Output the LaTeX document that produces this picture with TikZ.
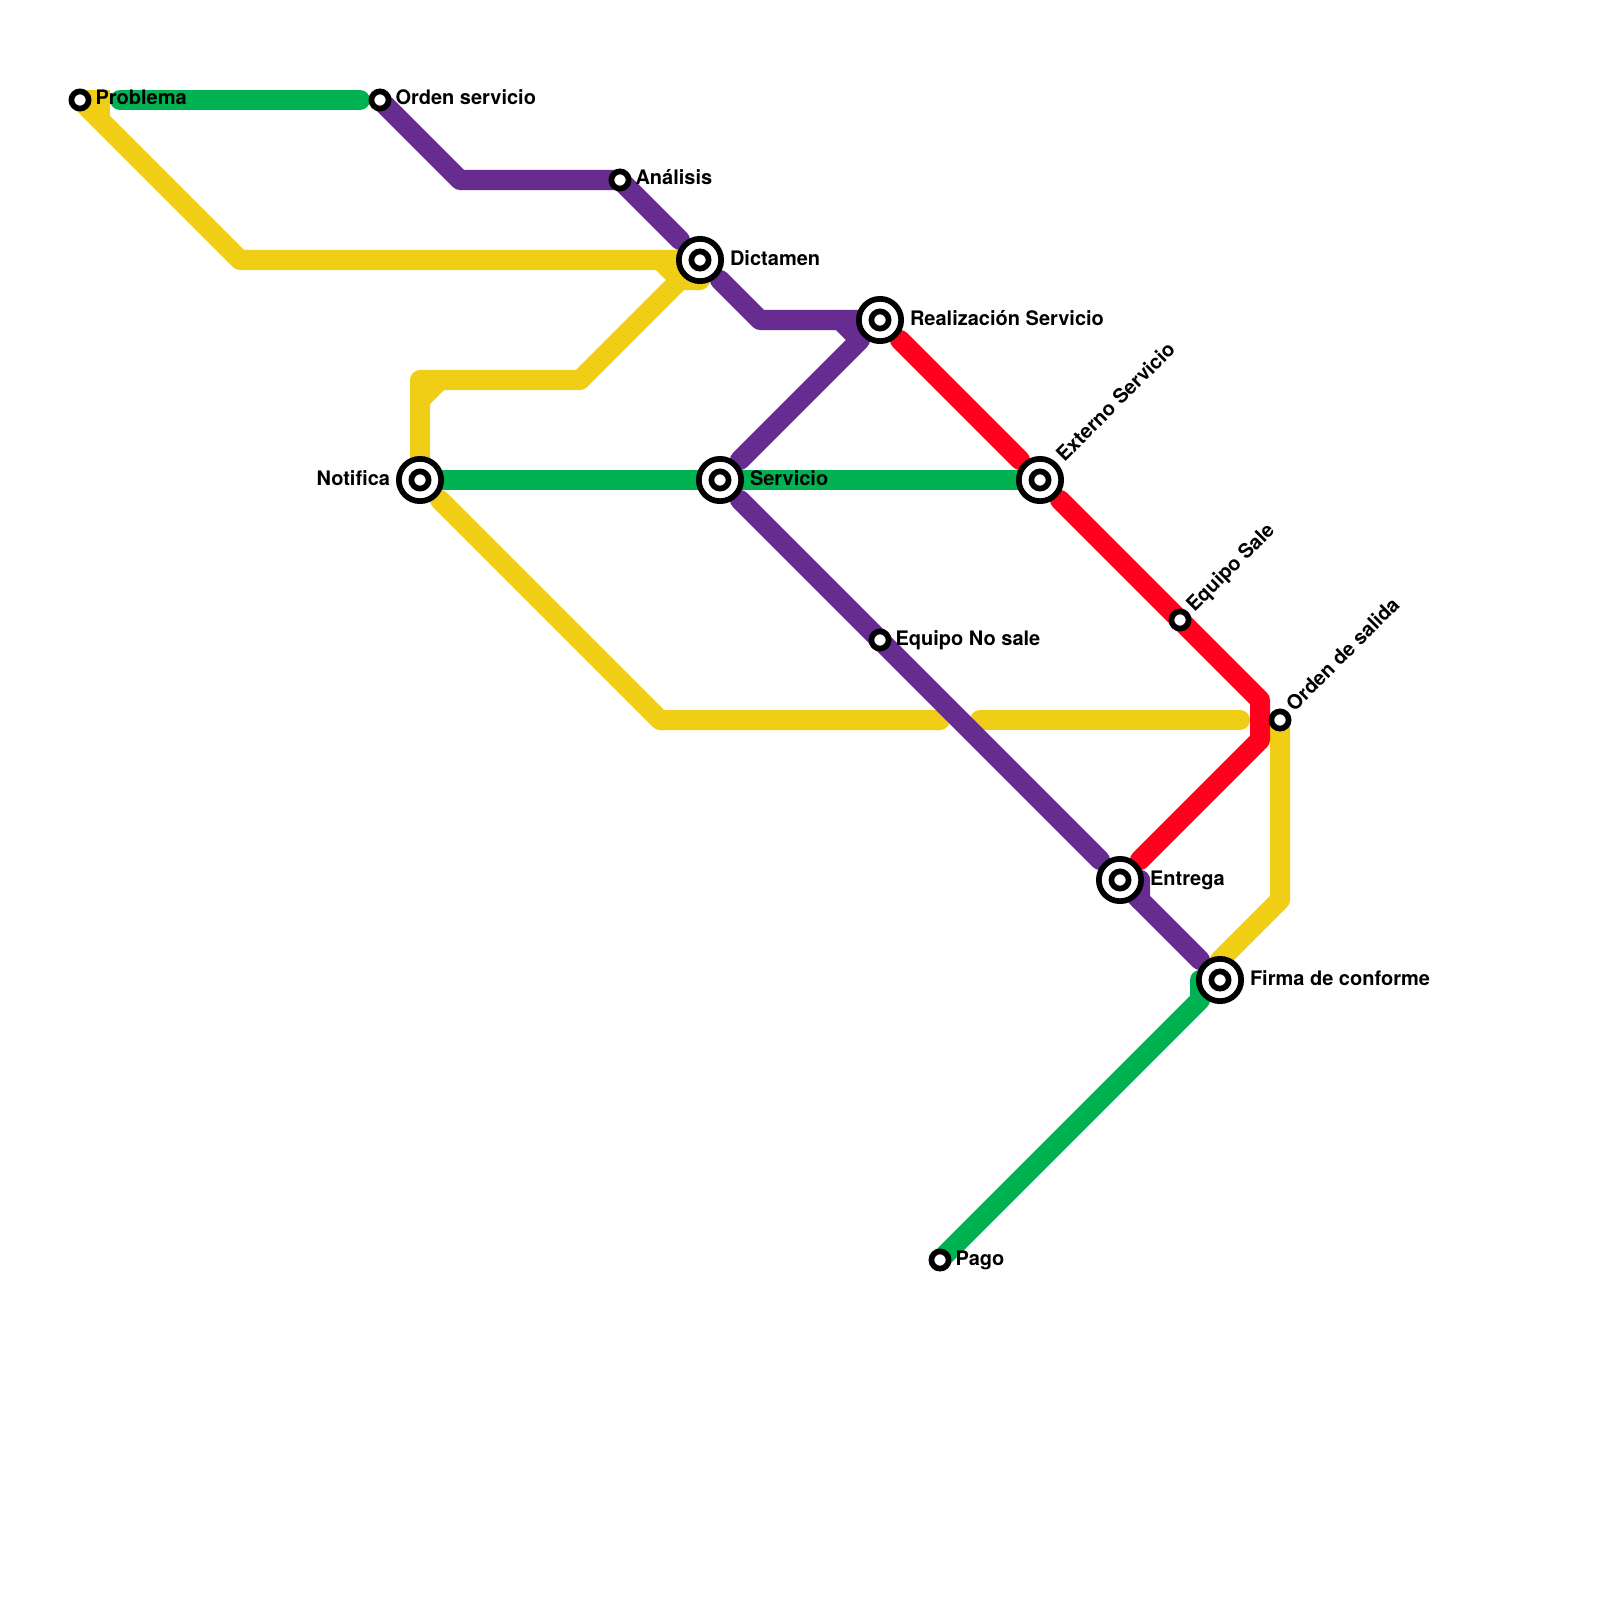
\documentclass[tikz,border=0pt]{standalone}
\usepackage{fontspec}
\setmainfont{TeX Gyre Heros}
\pgfdeclarelayer{lines}
\pgfsetlayers{lines,main}
\definecolor{lineY}{HTML}{F0CE15}
\definecolor{lineP}{HTML}{662C90}
\definecolor{lineG}{HTML}{00B251}
\definecolor{lineR}{HTML}{FF001D}
\tikzset{
  metro/.style={line width=2mm,line cap=round,line join=round},
  ringnode/.style={circle,draw=black,fill=white,line width=0.57mm,inner sep=0pt,outer sep=0pt,minimum size=4.23mm},
  dotnode/.style={circle,draw=black,fill=white,line width=0.57mm,inner sep=0pt,outer sep=0pt,minimum size=1.72mm},
  lbl/.style={font=\bfseries\fontsize{5.69pt}{6.5pt}\selectfont,inner sep=0pt,outer sep=0pt,text=black},
  lblr/.style={lbl,anchor=base west},
  lbll/.style={lbl,anchor=base east},
  lbld/.style={lbl,anchor=base west,rotate=45}
}
\begin{document}
\begin{tikzpicture}[x=0.01cm,y=-0.01cm]
\useasboundingbox (0,0) rectangle (1600,1600);
% stations
\node[dotnode] (prob) at (80,100) {};
\node[dotnode] (orden) at (380,100) {};
\node[dotnode] (anal) at (620,180) {};
\node[ringnode] (dict) at (700,260) {}; \node[dotnode] (dictc) at (dict) {};
\node[ringnode] (real) at (880,320) {}; \node[dotnode] (realc) at (real) {};
\node[ringnode] (noti) at (420,480) {}; \node[dotnode] (notic) at (noti) {};
\node[ringnode] (serv) at (720,480) {}; \node[dotnode] (servc) at (serv) {};
\node[ringnode] (exte) at (1040,480) {}; \node[dotnode] (extec) at (exte) {};
\node[dotnode] (nosale) at (880,640) {};
\node[dotnode] (sale) at (1180,620) {};
\node[dotnode] (osal) at (1280,720) {};
\node[ringnode] (entr) at (1120,880) {}; \node[dotnode] (entrc) at (entr) {};
\node[ringnode] (firm) at (1220,980) {}; \node[dotnode] (firmc) at (firm) {};
\node[dotnode] (pago) at (940,1260) {};
% yellow bends and line ends
\coordinate (y1) at (100,100);
\coordinate (y2) at (100,120);
\coordinate (y3) at (240,260);
\coordinate (y4) at (680,260);
\coordinate (y4b) at (660,260);
\coordinate (y5) at (680,280);
\coordinate (y6) at (700,280);
\coordinate (y7) at (580,380);
\coordinate (y8) at (420,380);
\coordinate (y9) at (420,400);
\coordinate (y10) at (440,380);
\coordinate (yn) at (420,460);
\coordinate (yn2) at (440,500);
\coordinate (y11) at (660,720);
\coordinate (y12) at (940,720);
\coordinate (y13) at (980,720);
\coordinate (y14) at (1240,720);
\coordinate (y15) at (1280,900);
\coordinate (y16) at (1220,960);
% purple
\coordinate (p1) at (460,180);
\coordinate (pd1) at (680,240);
\coordinate (pd2) at (720,280);
\coordinate (p2) at (760,320);
\coordinate (p3) at (840,320);
\coordinate (p3b) at (860,320);
\coordinate (p4) at (860,340);
\coordinate (ps1) at (740,460);
\coordinate (ps2) at (740,500);
\coordinate (pe1) at (1100,860);
\coordinate (p5) at (1140,880);
\coordinate (p6) at (1140,900);
\coordinate (pf) at (1200,960);
% green
\coordinate (g1) at (120,100);
\coordinate (g2) at (360,100);
\coordinate (gn) at (440,480);
\coordinate (gs1) at (700,480);
\coordinate (gs2) at (740,480);
\coordinate (ge) at (1020,480);
\coordinate (g3) at (1200,980);
\coordinate (g4) at (1200,1000);
% red
\coordinate (r0) at (900,340);
\coordinate (re1) at (1020,460);
\coordinate (re2) at (1060,500);
\coordinate (r1) at (1260,700);
\coordinate (r2) at (1260,740);
\coordinate (r3) at (1140,860);
% lines
\begin{pgfonlayer}{lines}
\draw[metro,lineY] (prob.center) -- (y3) -- (y4);
\draw[lineY,line width=2mm,line join=miter,line cap=butt] (prob.center) -- (y1) -- (y2);
\draw[metro,lineY] (y4b) -- (y5) -- (y6);
\draw[metro,lineY] (y5) -- (y7) -- (y8) -- (yn);
\draw[metro,lineY] (y9) -- (y10);
\draw[metro,lineY] (yn2) -- (y11) -- (y12);
\draw[metro,lineY] (y13) -- (y14);
\draw[metro,lineY] (osal.center) -- (y15) -- (y16);
\draw[metro,lineP] (orden.center) -- (p1) -- (anal.center) -- (pd1);
\draw[metro,lineP] (pd2) -- (p2) -- (p3b);
\draw[metro,lineP] (p3) -- (p4) -- (ps1);
\draw[metro,lineP] (ps2) -- (nosale.center) -- (pe1);
\draw[metro,lineP] (p5) -- (p6) -- (pf);
\draw[metro,lineP] (entr.center) -- (p5);
\draw[metro,lineP] (entr.center) -- (p6);
\draw[metro,lineG] (g1) -- (g2);
\draw[metro,lineG] (gn) -- (gs1);
\draw[metro,lineG] (gs2) -- (ge);
\draw[metro,lineG] (g3) -- (g4) -- (pago.center);
\draw[metro,lineR] (r0) -- (re1);
\draw[metro,lineR] (re2) -- (sale.center) -- (r1) -- (r2) -- (r3);
\end{pgfonlayer}
% labels
\node[lblr] (lprob) at (95.5,105) {Problema};
\node[lblr] (lorden) at (395.5,105) {Orden servicio};
\node[lblr] (lanal) at (635.5,185) {Análisis};
\node[lblr] (ldict) at (730,265) {Dictamen};
\node[lblr] (lreal) at (910,325) {Realización Servicio};
\node[lbll] (lnoti) at (390,485) {Notifica};
\node[lblr] (lserv) at (750,485) {Servicio};
\node[lblr] (lnosale) at (895.5,645) {Equipo No sale};
\node[lblr] (lentr) at (1150,885) {Entrega};
\node[lblr] (lfirm) at (1250,985) {Firma de conforme};
\node[lblr] (lpago) at (955.5,1265) {Pago};
\node[lbld] (lexte) at (1064.5,462.5) {Externo Servicio};
\node[lbld] (lsale) at (1194.5,612.5) {Equipo Sale};
\node[lbld] (losal) at (1294.5,712.5) {Orden de salida};
\end{tikzpicture}
\end{document}
